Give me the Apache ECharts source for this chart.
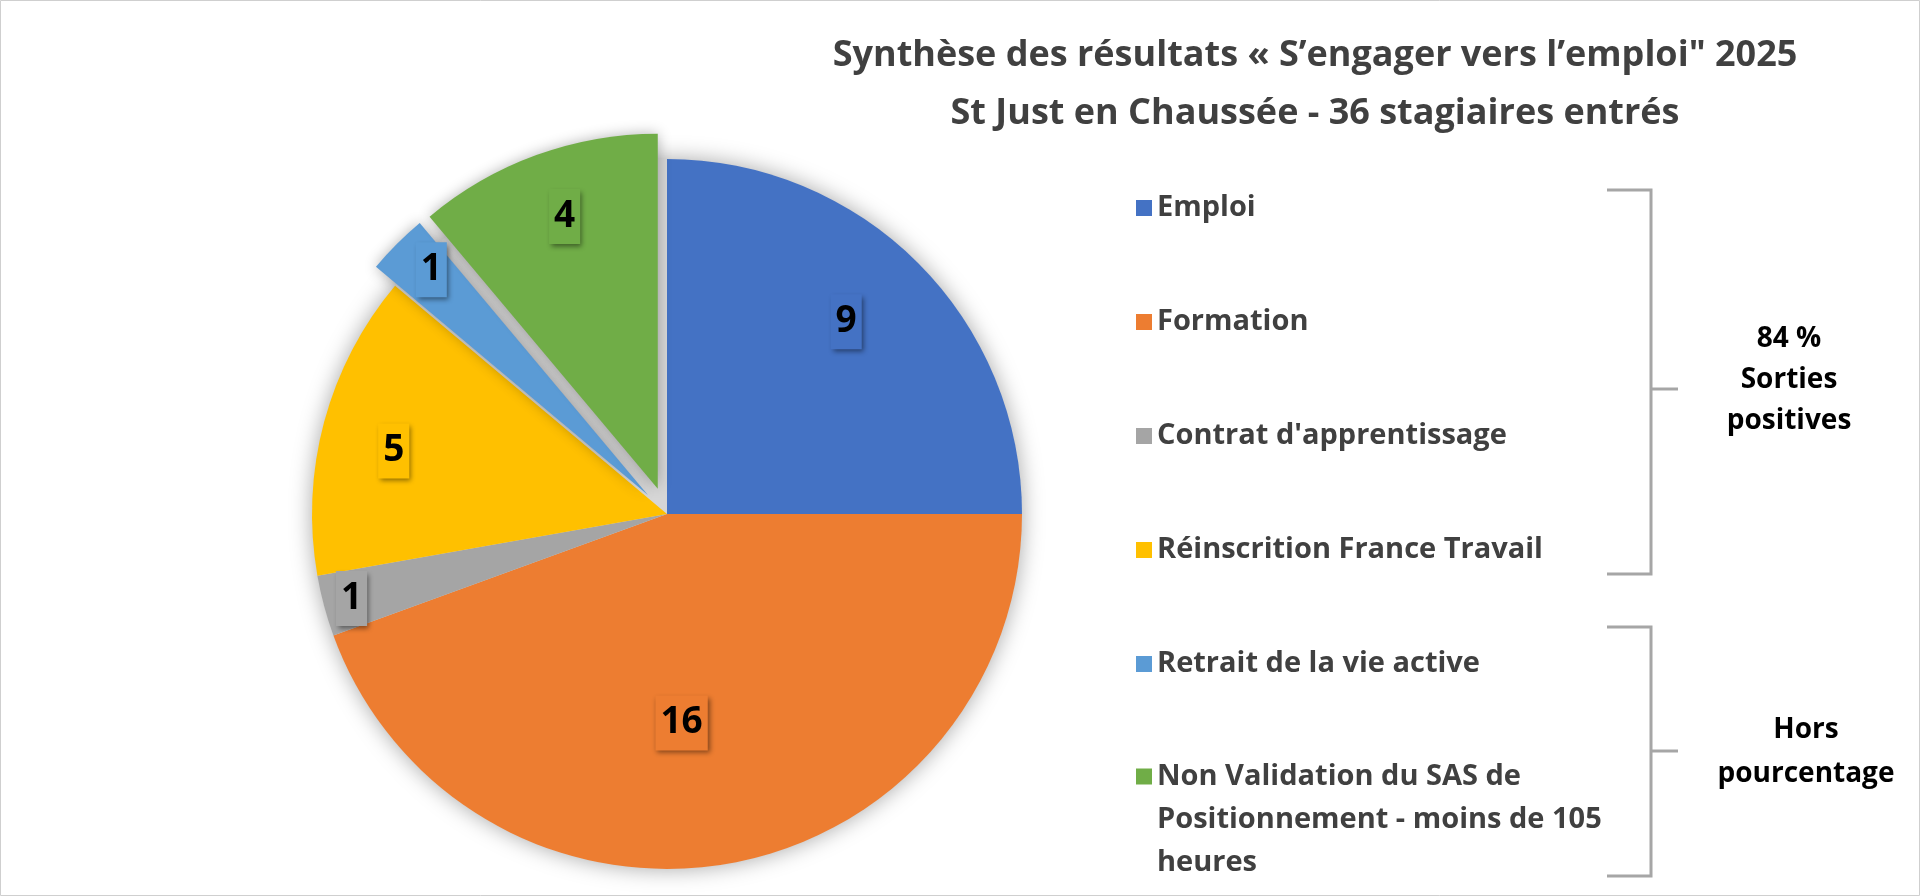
<!DOCTYPE html>
<html><head><meta charset="utf-8">
<script src="https://cdn.jsdelivr.net/npm/echarts@6/dist/echarts.min.js"></script>
<style>html,body{margin:0;padding:0;background:#fff}#c{width:1920px;height:896px}</style>
</head><body><div id="c"></div>
<script>
// ---- data ----
const categories = ['Emploi', 'Formation', "Contrat d'apprentissage", 'Réinscrition France Travail', 'Retrait de la vie active', 'Non Validation du SAS de Positionnement - moins de 105 heures'];
const values = [9, 16, 1, 5, 1, 4];
const exploded = [false, false, false, false, true, true];
const titleLines = ['Synthèse des résultats « S’engager vers l’emploi" 2025', 'St Just en Chaussée - 36 stagiaires entrés'];
const legendLastLines = ['Non Validation du SAS de', 'Positionnement - moins de 105', 'heures'];
const groupPositive = ['84 %', 'Sorties', 'positives'];
const groupOther = ['Hors', 'pourcentage'];

// ---- style / layout ----
const colors = ['#4472C4', '#ED7D31', '#A5A5A5', '#FFC000', '#5B9BD5', '#70AD47'];
const FONT = '"Open Sans"';
const CX = 667, CY = 514, R = 355, OFFSET = 27;
const labelRatio = [0.74, 0.59, 0.92, 0.79, 0.88, 0.81];
const labelAngleAdj = [2, -6, 0, 2, -1, -1];

const total = values.reduce((a, b) => a + b, 0);
const mids = [];
let acc = 0;
values.forEach(v => {
  const a0 = 90 - acc / total * 360, a1 = 90 - (acc + v) / total * 360;
  mids.push((a0 + a1) / 2);
  acc += v;
});

const chart = echarts.init(document.getElementById('c'), null, {renderer: 'canvas'});
const legendText = {fontFamily: FONT, fontSize: 29, fontWeight: 'bold', color: '#404040'};
const pieBase = {type: 'pie', center: [CX, CY], radius: R, startAngle: 90, clockwise: true, avoidLabelOverlap: false};
chart.setOption({
  backgroundColor: '#ffffff',
  animation: false,
  title: {
    text: titleLines.join('\n'), left: 1315, top: 27, textAlign: 'center', padding: 0,
    textStyle: {fontFamily: FONT, fontSize: 36, fontWeight: 'bold', color: '#404040', lineHeight: 58}
  },
  legend: [{
    orient: 'vertical', left: 1136, top: 193, padding: 0, itemGap: 84, itemWidth: 16, itemHeight: 16,
    icon: 'rect', selectedMode: false, data: categories.slice(0, 5),
    itemStyle: {shadowBlur: 0, shadowColor: 'transparent'},
    textStyle: Object.assign({lineHeight: 30}, legendText)
  }, {
    orient: 'vertical', left: 1136, top: 669, padding: 0, itemWidth: 16, itemHeight: 16,
    icon: 'rect', selectedMode: false, data: [categories[5]],
    itemStyle: {shadowBlur: 0, shadowColor: 'transparent'},
    formatter: () => '\n\n' + legendLastLines.join('\n'),
    textStyle: Object.assign({lineHeight: 43}, legendText)
  }],
  series: [Object.assign({}, pieBase, {
    name: 'bg', silent: true, z: 1,
    label: {show: false}, labelLine: {show: false},
    data: [{value: 1, name: '_bg', itemStyle: {color: '#d6d6d6', shadowBlur: 22, shadowColor: 'rgba(0,0,0,0.35)'}}]
  }), Object.assign({}, pieBase, {
    name: 'résultats', selectedMode: 'multiple', selectedOffset: OFFSET, z: 2,
    itemStyle: {borderWidth: 0},
    emphasis: {scale: false},
    data: categories.map((n, i) => ({
      name: n, value: values[i], selected: exploded[i],
      itemStyle: Object.assign({color: colors[i]}, exploded[i] ? {shadowBlur: 14, shadowColor: 'rgba(0,0,0,0.3)'} : {})
    })),
    label: {show: false}, labelLine: {show: false}
  }), Object.assign({}, pieBase, {
    name: 'étiquettes', silent: true, z: 3,
    itemStyle: {color: 'rgba(0,0,0,0)', borderWidth: 0},
    data: categories.map((n, i) => ({name: n, value: values[i], label: {backgroundColor: colors[i]}})),
    label: {
      show: true, position: 'inside', formatter: '{c}', fontFamily: FONT, fontSize: 37, fontWeight: 'bold',
      color: '#000', lineHeight: 43, padding: [6, 5, 6, 5],
      shadowBlur: 5, shadowOffsetX: 2, shadowOffsetY: 3, shadowColor: 'rgba(0,0,0,0.45)'
    },
    labelLine: {show: false},
    labelLayout: function (p) {
      const i = p.dataIndex;
      const a = (mids[i] + labelAngleAdj[i]) * Math.PI / 180;
      const d = labelRatio[i] * R + (exploded[i] ? OFFSET : 0);
      return {x: CX + d * Math.cos(a), y: CY - d * Math.sin(a), align: 'center', verticalAlign: 'middle'};
    }
  })],
  graphic: [
    {type: 'rect', silent: true, shape: {x: 0.5, y: 0.5, width: 1919, height: 895}, style: {fill: 'none', stroke: '#cfcfcf', lineWidth: 1}},
    {type: 'polyline', silent: true, shape: {points: [[1607, 190], [1651, 190], [1651, 574], [1607, 574]]}, style: {fill: 'none', stroke: '#a6a6a6', lineWidth: 3}},
    {type: 'line', silent: true, shape: {x1: 1651, y1: 389, x2: 1678, y2: 389}, style: {stroke: '#a6a6a6', lineWidth: 3}},
    {type: 'polyline', silent: true, shape: {points: [[1607, 627], [1651, 627], [1651, 876], [1607, 876]]}, style: {fill: 'none', stroke: '#a6a6a6', lineWidth: 3}},
    {type: 'line', silent: true, shape: {x1: 1651, y1: 751, x2: 1678, y2: 751}, style: {stroke: '#a6a6a6', lineWidth: 3}},
    {type: 'text', silent: true, x: 1789, y: 380, style: {text: groupPositive.join('\n'), fontFamily: FONT, fontSize: 28, fontWeight: 'bold', fill: '#000', align: 'center', verticalAlign: 'middle', textAlign: 'center', textVerticalAlign: 'middle', lineHeight: 41}},
    {type: 'text', silent: true, x: 1806, y: 752, style: {text: groupOther.join('\n'), fontFamily: FONT, fontSize: 28, fontWeight: 'bold', fill: '#000', align: 'center', verticalAlign: 'middle', textAlign: 'center', textVerticalAlign: 'middle', lineHeight: 44}}
  ]
});
</script>
</body></html>
